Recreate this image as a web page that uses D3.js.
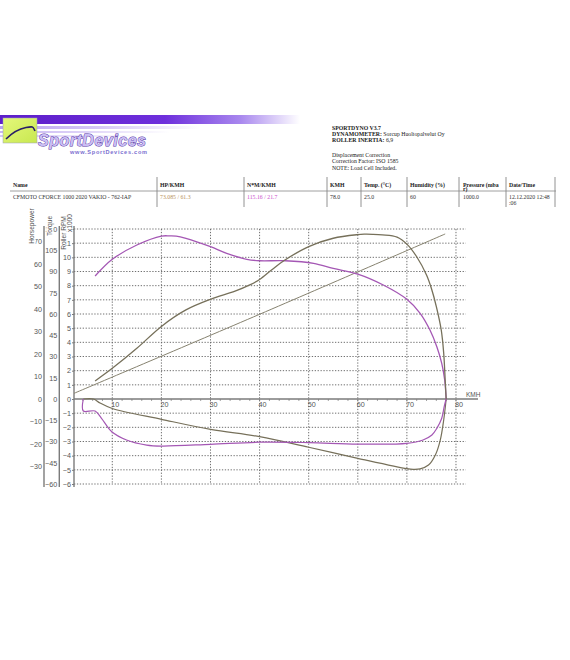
<!DOCTYPE html>
<html>
<head>
<meta charset="utf-8">
<script src="https://cdn.jsdelivr.net/npm/d3@7/dist/d3.min.js"></script>
<style>
  html, body { margin: 0; padding: 0; background: #fff; }
  svg { display: block; }
</style>
</head>
<body>
<script>
// ---- Run data ----
// Power run (HP vs km/h)
const hpKmh  = [6.5, 10, 15, 20, 25, 30, 35, 38, 40, 42.5, 45, 50, 55, 60, 61.3, 63, 65, 68, 70, 72, 74, 75, 76, 77, 77.5, 77.8, 78];
const hpVals = [8.0, 13.6, 22.5, 32.2, 39.5, 44.2, 47.8, 50.6, 53.0, 57.3, 61.4, 67.6, 71.3, 72.9, 73.085, 73.05, 72.8, 71.8, 68.7, 63.1, 55.0, 49.0, 41.0, 30.6, 20.3, 8.4, 0];
// Coast-down losses (HP)
const hpLossKmh  = [78, 77.5, 76.8, 75.8, 74.4, 72.7, 71.3, 70, 60, 50, 40, 30, 20, 10, 7.5, 6.2, 4.1];
const hpLossVals = [0, -9.3, -18.2, -24.8, -29.3, -31.0, -31.2, -30.9, -26.3, -21.4, -16.7, -13.5, -9.0, -4.2, -1.8, 0, 0];
// Torque run (N*m vs km/h)
const tqKmh  = [6.5, 10, 15, 20, 21.7, 23, 25, 30, 33.3, 37.4, 40, 45.2, 51, 55, 60, 65.2, 70, 72.7, 74.7, 76.1, 77.1, 77.7, 78];
const tqVals = [86.8, 98.6, 108.7, 115.0, 115.16, 115.0, 113.4, 107.5, 102.8, 98.6, 97.6, 97.6, 95.8, 92.2, 88.2, 80.5, 70.4, 60.5, 48.7, 36.9, 25.2, 13.4, 0];
// Coast-down losses (N*m)
const tqLossKmh  = [78, 77.6, 77.1, 76.1, 75.1, 73.3, 70, 60, 50, 40, 30, 20, 17, 12.9, 9.9, 7.8, 6.5, 4.1, 4.1];
const tqLossVals = [0, -5.4, -13.6, -20.7, -25.4, -28.9, -31.3, -31.8, -30.8, -30.5, -32.0, -33.2, -32.5, -28.9, -23.1, -13.6, -8.5, -8.5, 0];
// Roller speed (RPM x1000 vs km/h)
const rollerKmh = [2.2, 40, 77.8];
const rollerRpm = [0.4, 5.98, 11.65];

// Axis ticks
const kmhTicks = [10, 20, 30, 40, 50, 60, 70, 80];
const kmhMinor = d3.range(4, 82, 2);
const hpTicks  = [-30, -20, -10, 0, 10, 20, 30, 40, 50, 60, 70];
const tqTicks  = [-60, -45, -30, -15, 0, 15, 30, 45, 60, 75, 90, 105, 120];
const rpmTicks = [-6, -5, -4, -3, -2, -1, 0, 1, 2, 3, 4, 5, 6, 7, 8, 9, 10, 11, 12];

// Report header
const infoLines = [
  { bold: "SPORTDYNO V3.7", text: "" },
  { bold: "DYNAMOMETER:", text: " Sorcup Huoltopalvelut Oy" },
  { bold: "ROLLER INERTIA:", text: "  6,9" },
  { bold: "", text: "" },
  { bold: "", text: "Displacement Correction" },
  { bold: "", text: "Correction Factor: ISO 1585" },
  { bold: "", text: "NOTE: Load Cell Included." }
];
const tableHeads = ["Name", "HP/KMH", "N*M/KMH", "KMH", "Temp. (\u00B0C)", "Humidity (%)", "Pressure (mba", "Date/Time"];
const tableRow   = ["CFMOTO CFORCE 1000 2020 VAKIO - 762-IAP", "73.085 / 61.3", "115.16 / 21.7", "78.0", "25.0", "60", "1000.0", "12.12.2020 12:48"];

// ---- Drawing ----
const W = 570, H = 660;
const svg = d3.select("body").append("svg").attr("width", W).attr("height", H);
const serif = "'Liberation Serif', 'DejaVu Serif', serif";
const sans = "'Liberation Sans', Arial, sans-serif";

const defs = svg.append("defs");
const g1 = defs.append("linearGradient").attr("id", "bar").attr("x1", 0).attr("x2", 1);
g1.append("stop").attr("offset", 0).attr("stop-color", "#5d1ec9");
g1.append("stop").attr("offset", 0.55).attr("stop-color", "#6e2fdc");
g1.append("stop").attr("offset", 0.8).attr("stop-color", "#a887ee");
g1.append("stop").attr("offset", 1).attr("stop-color", "#ffffff");
const g2 = defs.append("linearGradient").attr("id", "bar2").attr("x1", 0).attr("x2", 1);
g2.append("stop").attr("offset", 0).attr("stop-color", "#b9a2f0");
g2.append("stop").attr("offset", 0.5).attr("stop-color", "#d6c8f6");
g2.append("stop").attr("offset", 1).attr("stop-color", "#ffffff");
const g3 = defs.append("linearGradient").attr("id", "sq").attr("x1", 0).attr("y1", 0).attr("x2", 1).attr("y2", 1);
g3.append("stop").attr("offset", 0).attr("stop-color", "#e4f77a");
g3.append("stop").attr("offset", 1).attr("stop-color", "#c8e850");

// Logo band
svg.append("rect").attr("x", 0).attr("y", 115).attr("width", 300).attr("height", 9).attr("fill", "url(#bar)");
svg.append("rect").attr("x", 0).attr("y", 126).attr("width", 200).attr("height", 3).attr("fill", "url(#bar2)");
svg.append("rect").attr("x", 0).attr("y", 131).attr("width", 170).attr("height", 2).attr("fill", "url(#bar2)").attr("opacity", 0.8);
svg.append("rect").attr("x", 0).attr("y", 135).attr("width", 140).attr("height", 2).attr("fill", "url(#bar2)").attr("opacity", 0.6);
svg.append("rect").attr("x", 3).attr("y", 118).attr("width", 34).attr("height", 25)
  .attr("fill", "url(#sq)").attr("stroke", "#9a9fc0").attr("stroke-width", 0.5);
svg.append("path").attr("d", "M6,139 C12,133 18,129 26,127.5 S33,127 35,131")
  .attr("fill", "none").attr("stroke", "#2a1f66").attr("stroke-width", 1.6);
svg.append("text").attr("x", 38).attr("y", 145.5).text("SportDevices")
  .attr("font-family", sans).attr("font-style", "italic").attr("font-weight", "bold")
  .attr("font-size", 16).attr("textLength", 108).attr("fill", "#cbbff3")
  .attr("stroke", "#5534a6").attr("stroke-width", 0.9).attr("paint-order", "stroke");
svg.append("text").attr("x", 70).attr("y", 153.5).text("www.SportDevices.com")
  .attr("font-family", sans).attr("font-weight", "bold").attr("font-size", 5.6)
  .attr("textLength", 77).attr("fill", "#7a6fd0");

// Info block
const info = svg.append("g").attr("font-family", serif).attr("font-size", 5.8).attr("fill", "#222");
infoLines.forEach((d, i) => {
  const y = i < 3 ? 129.5 + i * 6.2 : 157.3 + (i - 4) * 6.1;
  const t = info.append("text").attr("x", 332).attr("y", y);
  if (d.bold) t.append("tspan").attr("font-weight", "bold").text(d.bold);
  if (d.text) t.append("tspan").text(d.text);
});

// Results table
const colX = [13, 160, 247, 330, 364, 410, 463, 509];
const sepX = [157, 244, 327, 361, 407, 459, 506, 555];
const tbl = svg.append("g").attr("font-family", serif).attr("font-size", 5.8);
sepX.forEach(x => tbl.append("line").attr("x1", x).attr("x2", x).attr("y1", 177).attr("y2", 207)
  .attr("stroke", "#777").attr("stroke-width", 0.8));
tbl.append("line").attr("x1", 10).attr("x2", 556).attr("y1", 191).attr("y2", 191)
  .attr("stroke", "#888").attr("stroke-width", 0.8);
tableHeads.forEach((h, i) => tbl.append("text").attr("x", colX[i]).attr("y", 186.5)
  .attr("font-weight", "bold").attr("fill", "#222").text(h));
tbl.append("text").attr("x", colX[6]).attr("y", 191).attr("font-weight", "bold").attr("fill", "#222").text("r)");
const rowColors = ["#333", "#b8925c", "#cc4fcc", "#333", "#333", "#333", "#333", "#333"];
tableRow.forEach((v, i) => tbl.append("text").attr("x", colX[i]).attr("y", 199)
  .attr("fill", rowColors[i]).text(v));
tbl.append("text").attr("x", colX[7]).attr("y", 204.8).attr("fill", "#333").text(":06");

// ---- Chart ----
const x = d3.scaleLinear().domain([2.2, 82]).range([74, 465.8]);
const yRpm = d3.scaleLinear().domain([-6, 12]).range([484, 229]);
const yTq = d3.scaleLinear().domain([-60, 120]).range([484, 229]);
const yHp = d3.scaleLinear().domain([-37.7, 75.4]).range([484, 229]);

const grid = svg.append("g").attr("stroke", "#606060").attr("stroke-width", 0.9)
  .attr("stroke-dasharray", "1.3,1.6");
rpmTicks.filter(v => v !== 0).forEach(v => grid.append("line")
  .attr("x1", x(2.2)).attr("x2", x(82)).attr("y1", yRpm(v)).attr("y2", yRpm(v)));
kmhTicks.forEach(v => grid.append("line")
  .attr("x1", x(v)).attr("x2", x(v)).attr("y1", yRpm(12)).attr("y2", yRpm(-6)));

// Axis lines
const axisCol = "#7b7b7b";
[44, 59.3, 74].forEach(ax => svg.append("line").attr("x1", ax).attr("x2", ax)
  .attr("y1", 226).attr("y2", 487).attr("stroke", axisCol).attr("stroke-width", 1.4));
svg.append("line").attr("x1", 74).attr("x2", 478).attr("y1", yRpm(0)).attr("y2", yRpm(0))
  .attr("stroke", axisCol).attr("stroke-width", 1.3);
kmhMinor.forEach(v => svg.append("line").attr("x1", x(v)).attr("x2", x(v))
  .attr("y1", yRpm(0)).attr("y2", yRpm(0) + 2).attr("stroke", axisCol).attr("stroke-width", 0.7));

function styleAxis(g) {
  g.select(".domain").remove();
  g.selectAll("text").attr("font-family", sans).attr("font-size", 7.2).attr("fill", "#555");
  g.selectAll("line").attr("stroke", axisCol);
}
svg.append("g").attr("transform", "translate(44,0)")
  .call(d3.axisLeft(yHp).tickValues(hpTicks).tickSize(0).tickPadding(2)).call(styleAxis);
svg.append("g").attr("transform", "translate(59.3,0)")
  .call(d3.axisLeft(yTq).tickValues(tqTicks).tickSize(0).tickPadding(2)).call(styleAxis);
svg.append("g").attr("transform", "translate(74,0)")
  .call(d3.axisLeft(yRpm).tickValues(rpmTicks).tickSize(2).tickPadding(1)).call(styleAxis);
const xa = svg.append("g").attr("transform", `translate(0,${yRpm(0)})`)
  .call(d3.axisBottom(x).tickValues(kmhTicks).tickSize(0).tickPadding(3)).call(styleAxis);
xa.selectAll("text").attr("dx", 2.5);
svg.append("text").attr("x", 466).attr("y", 397).text("KMH")
  .attr("font-family", sans).attr("font-size", 6.5).attr("fill", "#555");

// Axis titles, each on a white plate that sits over the top tick labels
const titles = [
  { t: "Horsepower", x: 34, y: 226 },
  { t: "Torque", x: 51.6, y: 226 },
  { t: "Roller RPM", x: 66, y: 233 },
  { t: "x1000", x: 72, y: 223 }
];
titles.forEach(d => {
  const g = svg.append("g").attr("transform", `translate(${d.x},${d.y}) rotate(-90)`);
  const txt = g.append("text").attr("text-anchor", "middle").attr("font-family", sans)
    .attr("font-size", 6.6).attr("fill", "#555").text(d.t);
  const b = txt.node().getBBox();
  g.insert("rect", "text").attr("x", b.x - 0.5).attr("y", b.y + 0.8)
    .attr("width", b.width + 1).attr("height", b.height - 1.2).attr("fill", "#fff");
});

// Curves
const curve = d3.curveCatmullRom.alpha(0.5);
function drawSeries(xs, ys, yScale, color, width) {
  const pts = xs.map((k, i) => [x(k), yScale(ys[i])]);
  svg.append("path").datum(pts)
    .attr("d", d3.line().curve(curve))
    .attr("fill", "none").attr("stroke", color).attr("stroke-width", width)
    .attr("stroke-linejoin", "round");
}
const hpColor = "#76705a";
const tqColor = "#a457b4";
drawSeries(rollerKmh, rollerRpm, yRpm, "#86826f", 1.0);
drawSeries(hpLossKmh, hpLossVals, yHp, hpColor, 1.2);
drawSeries(tqLossKmh, tqLossVals, yTq, tqColor, 1.2);
drawSeries(tqKmh, tqVals, yTq, tqColor, 1.3);
drawSeries(hpKmh, hpVals, yHp, hpColor, 1.3);
</script>
</body>
</html>
